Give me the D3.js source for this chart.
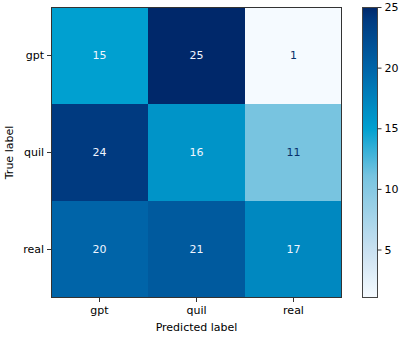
<!DOCTYPE html>
<html>
<head>
<meta charset="utf-8">
<script src="https://cdn.jsdelivr.net/npm/d3@7"></script>
<style>
  body { margin: 0; background: #fff; }
  svg text { font-family: "DejaVu Sans", sans-serif; font-size: 11px; fill: #000; }
</style>
</head>
<body>
<div id="chart"></div>
<script>
const trueLabels = ["gpt", "quil", "real"];
const predLabels = ["gpt", "quil", "real"];
const counts = [
  [15, 25, 1],
  [24, 16, 11],
  [20, 21, 17]
];
const colorbarTicks = [5, 10, 15, 20, 25];

// colormap stops (value -> colour)
const cmapValues = [1, 5, 11, 15, 17, 20, 24, 25];
const cmapColors = ["#f5faff", "#c8e0f0", "#78c4e0", "#00a0d0", "#0088c0", "#0064a8", "#003a80", "#00286a"];

const config = { width: 399, height: 337, left: 51, top: 7, size: 291, cbLeft: 362, cbWidth: 15 };

const svg = d3.select("#chart").append("svg")
  .attr("width", config.width)
  .attr("height", config.height);

const vmin = d3.min(counts.flat()), vmax = d3.max(counts.flat());
const color = d3.scaleLinear().domain(cmapValues).range(cmapColors).interpolate(d3.interpolateRgb);

const x = d3.scaleBand().domain(predLabels).range([config.left, config.left + config.size]);
const y = d3.scaleBand().domain(trueLabels).range([config.top, config.top + config.size]);

// cells
const cells = [];
counts.forEach((row, i) => row.forEach((v, j) => cells.push({ t: trueLabels[i], p: predLabels[j], v })));

svg.append("g").selectAll("rect").data(cells).enter().append("rect")
  .attr("x", d => x(d.p))
  .attr("y", d => y(d.t))
  .attr("width", x.bandwidth())
  .attr("height", y.bandwidth())
  .attr("fill", d => color(d.v));

const thresh = (vmin + vmax) / 2;
svg.append("g").selectAll("text").data(cells).enter().append("text")
  .attr("x", d => x(d.p) + x.bandwidth() / 2)
  .attr("y", d => y(d.t) + y.bandwidth() / 2)
  .attr("text-anchor", "middle")
  .attr("dominant-baseline", "central")
  .style("fill", d => d.v < thresh ? "#08306b" : "#f0f6ff")
  .text(d => d.v);

svg.append("rect")
  .attr("x", config.left + 0.5).attr("y", config.top + 0.5)
  .attr("width", config.size - 1).attr("height", config.size - 1)
  .attr("fill", "none").attr("stroke", "#333").attr("stroke-width", 1);

// axes
const xAxis = svg.append("g")
  .attr("transform", `translate(0,${config.top + config.size})`)
  .call(d3.axisBottom(x).tickSize(4).tickPadding(4));
const yAxis = svg.append("g")
  .attr("transform", `translate(${config.left},0)`)
  .call(d3.axisLeft(y).tickSize(4).tickPadding(3));
[xAxis, yAxis].forEach(a => {
  a.select(".domain").remove();
  a.selectAll("line").attr("stroke", "#333");
  a.selectAll("text").style("font-size", "11px").attr("fill", "#000");
});

svg.append("text")
  .attr("x", config.left + config.size / 2)
  .attr("y", 331)
  .attr("text-anchor", "middle")
  .text("Predicted label");

svg.append("text")
  .attr("transform", `translate(13,${config.top + config.size / 2}) rotate(-90)`)
  .attr("text-anchor", "middle")
  .text("True label");

// colorbar
const cbScale = d3.scaleLinear().domain([vmin, vmax]).range([config.top + config.size, config.top]);
const defs = svg.append("defs");
const grad = defs.append("linearGradient").attr("id", "cbgrad")
  .attr("x1", 0).attr("y1", 1).attr("x2", 0).attr("y2", 0);
d3.range(0, 1.0001, 0.02).forEach(t => {
  grad.append("stop").attr("offset", t).attr("stop-color", color(vmin + t * (vmax - vmin)));
});
svg.append("rect")
  .attr("x", config.cbLeft + 0.5).attr("y", config.top + 0.5)
  .attr("width", config.cbWidth).attr("height", config.size - 1)
  .attr("fill", "url(#cbgrad)")
  .attr("stroke", "#444").attr("stroke-width", 1);

const cbAxis = svg.append("g")
  .attr("transform", `translate(${config.cbLeft + config.cbWidth + 0.5},0)`)
  .call(d3.axisRight(cbScale).tickValues(colorbarTicks).tickSize(4).tickPadding(3));
cbAxis.select(".domain").remove();
cbAxis.selectAll("line").attr("stroke", "#333");
cbAxis.selectAll("text").style("font-size", "11px").attr("fill", "#000");
</script>
</body>
</html>
